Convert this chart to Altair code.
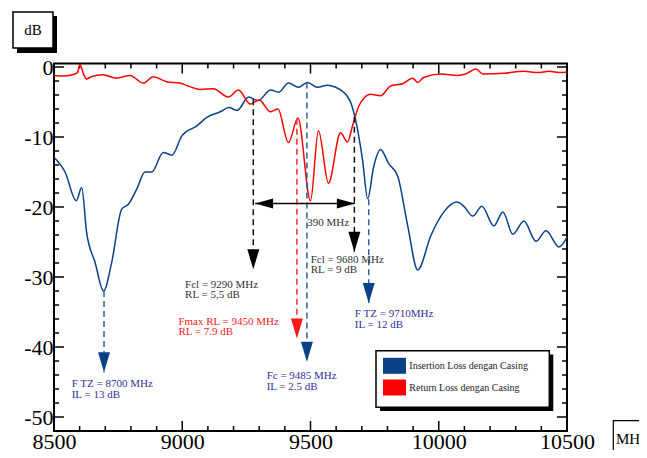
import altair as alt
import pandas as pd

SERIF = "Liberation Serif"
BLUE = "#0b4187"
RED = "#ff0000"
BLUE_DASH = "#2f5f9f"
BLUE_TEXT = "#30309a"

IL = "Insertion Loss dengan Casing"
RL = "Return Loss dengan Casing"

# Insertion loss curve (MHz, dB)
il_freq = [8500, 8543, 8587, 8608, 8627, 8660, 8693, 8725, 8764, 8790, 8823, 8855, 8881,
           8926, 8960, 8999, 9057, 9096, 9148, 9181, 9214, 9259, 9295, 9345, 9376, 9414,
           9453, 9488, 9527, 9566, 9598, 9629, 9642, 9656, 9676, 9703, 9723, 9746, 9773,
           9805, 9840, 9879, 9918, 9969, 10020, 10070, 10098, 10133, 10168, 10215, 10250,
           10289, 10332, 10379, 10418, 10469, 10500]
il_db = [-12.9, -15.0, -19.1, -17.2, -23.6, -27.9, -32.0, -27.9, -20.3, -19.6, -17.4, -15.0, -15.0,
         -12.2, -12.6, -9.8, -8.4, -7.2, -6.4, -5.8, -6.2, -4.3, -4.8, -3.3, -3.6, -2.3,
         -2.9, -2.2, -2.9, -2.6, -2.9, -3.6, -4.1, -5.0, -7.6, -13.3, -18.8, -14.3, -11.8,
         -13.8, -15.6, -22.7, -29.0, -24.1, -20.7, -19.3, -19.9, -21.3, -19.9, -22.7, -20.7,
         -23.9, -22.0, -24.9, -23.4, -25.7, -24.3]

# Return loss curve (MHz, dB)
rl_freq = [8500, 8540, 8582, 8592, 8601, 8615, 8627, 8645, 8691, 8744, 8796, 8848, 8887,
           8939, 8991, 9030, 9069, 9121, 9180, 9219, 9266, 9300, 9344, 9373, 9414, 9451,
           9500, 9531, 9570, 9617, 9644, 9664, 9688, 9710, 9734, 9773, 9813, 9859, 9898,
           9918, 9941, 10008, 10074, 10105, 10145, 10172, 10254, 10332, 10387, 10430, 10477, 10500]
rl_db = [-1.2, -1.3, -1.0, -0.8, 0.4, -1.0, -1.7, -1.4, -1.1, -1.6, -1.2, -2.3, -1.4,
         -2.1, -2.3, -2.8, -3.2, -3.1, -4.3, -3.3, -5.3, -4.7, -6.4, -6.0, -10.8, -7.3,
         -19.1, -9.1, -16.6, -9.4, -10.7, -8.4, -5.6, -4.4, -3.9, -4.1, -2.7, -2.4, -1.6,
         -2.2, -1.5, -1.0, -1.2, -1.0, -0.3, -1.0, -0.9, -0.6, -0.8, -0.6, -0.8, -0.7]

# Annotation arrows: x (MHz), start dB, tip dB, colour
arrow_x = [8695, 9277, 9447, 9486, 9671, 9727]
arrow_top = [-32.0, -4.6, -7.4, -2.2, -7.1, -18.9]
arrow_tip = [-43.6, -28.9, -38.8, -42.1, -26.4, -33.7]
arrow_line_col = [BLUE_DASH, "#111111", "#ff2a2a", BLUE_DASH, "#111111", BLUE_DASH]
arrow_head_col = [BLUE, "#000000", "#ff1a1a", BLUE, "#000000", BLUE]

# Bandwidth arrow
bw_left, bw_right, bw_y = 9284, 9673, -19.5

# Annotation texts
ann_text = ["F TZ = 8700 MHz", "IL = 13 dB",
            "Fcl = 9290 MHz", "RL = 5,5 dB",
            "Fmax RL = 9450 MHz", "RL = 7.9 dB",
            "Fc = 9485 MHz", "IL = 2.5 dB",
            "Fcl = 9680 MHz", "RL = 9 dB",
            "F TZ = 9710MHz", "IL = 12 dB",
            "390 MHz"]
ann_x = [8569, 8569, 9011, 9011, 8985, 8985, 9329, 9329, 9501, 9501, 9673, 9673, 9487]
ann_y = [-45.3, -46.8, -31.1, -32.6, -36.4, -37.9, -44.2, -45.7, -27.5, -29.0, -35.3, -36.8, -22.3]
ann_col = [BLUE_TEXT, BLUE_TEXT, "#333333", "#333333", "#ff2020", "#ff2020",
           BLUE_TEXT, BLUE_TEXT, "#333333", "#333333", BLUE_TEXT, BLUE_TEXT, "#333333"]

x_labels = [8500, 9000, 9500, 10000, 10500]
y_labels = [0, -10, -20, -30, -40, -50]

XMIN, XMAX, YMIN, YMAX = 8500, 10500, -52, 0.5
PX_PER_DB = 7.0
PX_PER_MHZ = 513 / 2000.0

XS = alt.Scale(domain=[XMIN, XMAX], nice=False, zero=False)
YS = alt.Scale(domain=[YMIN, YMAX], nice=False, zero=False)
XAXIS = alt.Axis(values=x_labels, title=None, grid=False, ticks=False, domain=False,
                 labelFont=SERIF, labelFontSize=22, labelPadding=0, labelColor="black",
                 labelFlush=False, labelOverlap=False, format="d")
YAXIS = alt.Axis(values=y_labels, title=None, grid=False, ticks=False, domain=False,
                 labelFont=SERIF, labelFontSize=22, labelPadding=1, labelColor="black",
                 labelFlush=False, labelOverlap=False, labelExpr="toString(datum.value)")


def X(field):
    return alt.X(field, type="quantitative", scale=XS, axis=XAXIS)


def Y(field):
    return alt.Y(field, type="quantitative", scale=YS, axis=YAXIS)


# tick marks (inward)
rows = []
for f in range(XMIN, XMAX + 1, 100):
    ln = (10 if f % 500 == 0 else 5) / PX_PER_DB
    rows.append({"f": f, "f2": f, "db": YMIN, "db2": YMIN + ln})
    rows.append({"f": f, "f2": f, "db": YMAX, "db2": YMAX - ln})
for v in range(-50, 1, 2):
    ln = (10 if v % 10 == 0 else 5) / PX_PER_MHZ
    rows.append({"f": XMIN, "f2": XMIN + ln, "db": v, "db2": v})
    rows.append({"f": XMAX, "f2": XMAX - ln, "db": v, "db2": v})
ticks = alt.Chart(pd.DataFrame(rows)).mark_rule(color="black", strokeWidth=1.5).encode(
    x=X("f"), x2="f2", y=Y("db"), y2="db2")

curves = pd.concat([
    pd.DataFrame({"f": il_freq, "db": il_db, "s": IL}),
    pd.DataFrame({"f": rl_freq, "db": rl_db, "s": RL}),
])

lines = alt.Chart(curves).mark_line(strokeWidth=1.5, interpolate="monotone").encode(
    x=X("f"), y=Y("db"),
    color=alt.Color("s:N", scale=alt.Scale(domain=[IL, RL], range=[BLUE, RED]), legend=None),
)

legend = alt.Legend(
    orient="none", legendX=332.5, legendY=294.3, title=None, zindex=5,
    symbolType="M-1.44,-1H1.44V1H-1.44Z", symbolSize=256, symbolStrokeWidth=0,
    symbolOpacity=1,
    labelFont=SERIF, labelFontSize=10, labelColor="#222222", labelOffset=6.8,
    rowPadding=5.7, padding=0,
)
# legend carrier: one clipped point per series, outside the x domain
legend_src = pd.DataFrame({"f": [XMIN - 300, XMIN - 300], "db": [-10, -10], "series": [IL, RL]})
legend_layer = alt.Chart(legend_src).mark_point(
    filled=True, opacity=1, clip=True, shape="M-1.44,-1H1.44V1H-1.44Z").encode(
    x=X("f"), y=Y("db"),
    fill=alt.Fill("series:N", scale=alt.Scale(domain=[IL, RL], range=[BLUE, RED]), legend=legend))

arrows = pd.DataFrame({"f": arrow_x, "db": arrow_top, "db2": arrow_tip,
                       "lc": arrow_line_col, "hc": arrow_head_col})
dashes = alt.Chart(arrows).mark_rule(strokeWidth=1.5, strokeDash=[6, 4]).encode(
    x=X("f"), y=Y("db"), y2="db2", color=alt.Color("lc:N", scale=None))
heads = alt.Chart(arrows).mark_point(filled=True, opacity=1, size=400,
                                     shape="M-0.6,-2L0.6,-2L0,0Z").encode(
    x=X("f"), y=Y("db2"), fill=alt.Fill("hc:N", scale=None))

bw = pd.DataFrame({"f": [bw_left], "f2": [bw_right], "db": [bw_y]})
bw_line = alt.Chart(bw).mark_rule(color="black", strokeWidth=1.5).encode(
    x=X("f"), x2="f2", y=Y("db"))
bw_l = alt.Chart(pd.DataFrame({"f": [bw_left], "db": [bw_y]})).mark_point(
    filled=True, opacity=1, size=324, color="black", shape="M0,0L2,-0.55L2,0.55Z").encode(
    x=X("f"), y=Y("db"))
bw_r = alt.Chart(pd.DataFrame({"f": [bw_right], "db": [bw_y]})).mark_point(
    filled=True, opacity=1, size=324, color="black", shape="M0,0L-2,-0.55L-2,0.55Z").encode(
    x=X("f"), y=Y("db"))

texts = alt.Chart(pd.DataFrame({"f": ann_x, "db": ann_y, "t": ann_text, "c": ann_col})).mark_text(
    align="left", baseline="middle", font=SERIF, fontSize=11).encode(
    x=X("f"), y=Y("db"), text="t:N", color=alt.Color("c:N", scale=None))

one = pd.DataFrame({"a": [0]})


def box(x1, x2, y1, y2, fill, stroke=None, sw=0):
    kw = dict(fill=fill)
    if stroke:
        kw.update(stroke=stroke, strokeWidth=sw)
    return alt.Chart(one).mark_rect(**kw).encode(
        x=alt.value(x1), x2=alt.value(x2), y=alt.value(y1), y2=alt.value(y2))


db_shadow = box(-37, 3, -47.5, -10.5, "black")
db_box = box(-41, -1, -51.5, -15.5, "white", "black", 1.5)
db_text = alt.Chart(one).mark_text(font=SERIF, fontSize=15, color="black").encode(
    x=alt.value(-21), y=alt.value(-33.5), text=alt.value("dB"))

mhz_box = box(559.3, 600, 357.2, 392.2, "white", "black", 1.2)
mhz_text = alt.Chart(one).mark_text(font=SERIF, fontSize=15, color="black", align="left").encode(
    x=alt.value(562), y=alt.value(375.5), text=alt.value("MHz"))

leg_shadow = box(326, 499.3, 291, 347.5, "black")
leg_box = box(322, 495.3, 287.2, 343.8, "white", "black", 1.5)

chart = alt.layer(
    ticks, lines, dashes, heads, bw_line, bw_l, bw_r, texts,
    db_shadow, db_box, db_text, mhz_box, mhz_text, leg_shadow, leg_box, legend_layer,
).resolve_scale(color="independent", fill="independent").properties(
    width=513, height=367.5,
    autosize=alt.AutoSizeParams(type="none"),
    padding={"left": 46, "top": 55.5, "right": 72, "bottom": 19},
    background="white",
).configure_view(stroke="black", strokeWidth=2)

chart.save("out.html", embed_options={"renderer": "svg", "actions": False})
